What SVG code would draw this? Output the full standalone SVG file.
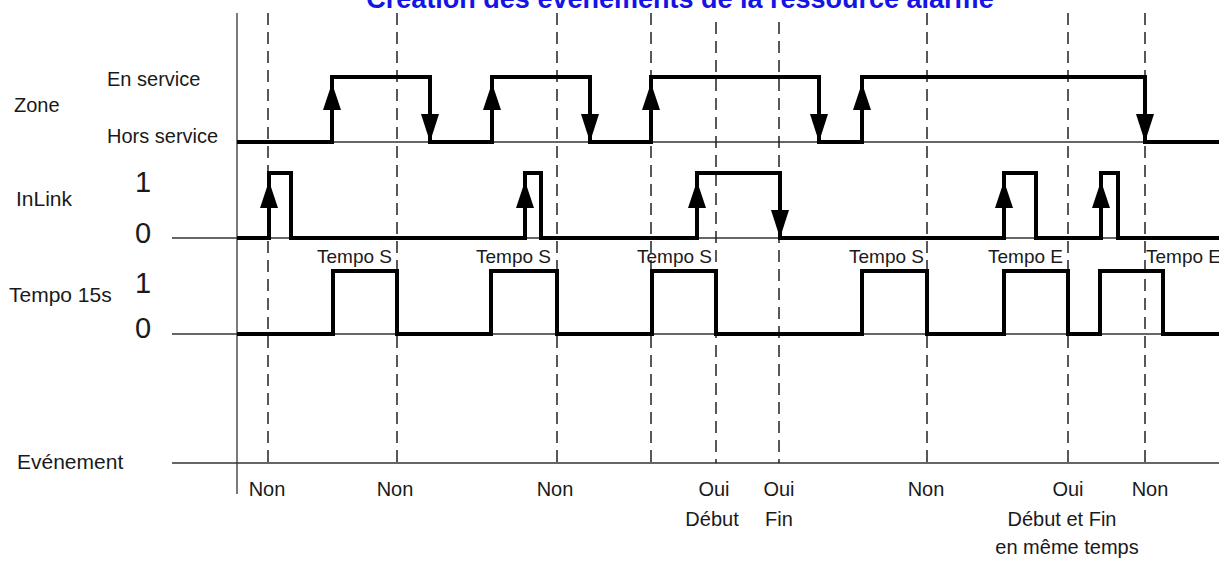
<svg xmlns="http://www.w3.org/2000/svg" xmlns:xlink="http://www.w3.org/1999/xlink" width="1219" height="561" viewBox="0 0 1219 561">
<style>
  .lbl{font-family:"Liberation Sans",Arial,sans-serif;font-size:20px;fill:#1a1a1a}
  .big{font-family:"Liberation Sans",Arial,sans-serif;font-size:29px;fill:#1a1a1a}
  .tmp{font-family:"Liberation Sans",Arial,sans-serif;font-size:19px;fill:#1a1a1a}
  .ev{font-family:"Liberation Sans",Arial,sans-serif;font-size:20px;fill:#1a1a1a;text-anchor:middle}
  .title{font-family:"Liberation Sans",Arial,sans-serif;font-size:27px;font-weight:bold;fill:#1414e6;text-anchor:middle}
  .thin{stroke:#333;stroke-width:1.5;fill:none}
  .dash{stroke:#222;stroke-width:1.5;stroke-dasharray:12 7;fill:none}
  .sig{stroke:#000;stroke-width:4;fill:none;stroke-linejoin:miter}
</style>
<defs>
  <path id="up" d="M0,0 L-9,27 L9,27 Z" fill="#000"/>
  <path id="dn" d="M0,0 L-9,-28 L9,-28 Z" fill="#000"/>
</defs>
<rect width="1219" height="561" fill="#fff"/>
<g id="title"><text class="title" x="680" y="8">Création des événements de la ressource alarme</text></g>
<g id="labels">
  <text class="lbl" x="14" y="112">Zone</text>
  <text class="lbl" x="107" y="86">En service</text>
  <text class="lbl" x="107" y="143">Hors service</text>
  <text class="lbl" x="16" y="206" style="font-size:21px">InLink</text>
  <text class="big" x="135" y="192">1</text>
  <text class="big" x="135" y="243">0</text>
  <text class="lbl" x="9" y="302" style="font-size:21px">Tempo 15s</text>
  <text class="big" x="135" y="293">1</text>
  <text class="big" x="135" y="338">0</text>
  <text class="lbl" x="17" y="469" style="font-size:21px">Evénement</text>
</g>
<g id="axes">
  <line class="thin" x1="237" y1="13" x2="237" y2="494" style="stroke-width:1.3"/>
  <line class="thin" x1="237" y1="142" x2="1219" y2="142"/>
  <line class="thin" x1="172" y1="238" x2="1219" y2="238"/>
  <line class="thin" x1="172" y1="334" x2="1219" y2="334"/>
  <line class="thin" x1="172" y1="463" x2="1219" y2="463"/>
</g>
<g id="connectors">
  <line class="dash" x1="268" y1="13" x2="268" y2="462"/>
  <line class="dash" x1="397" y1="13" x2="397" y2="462"/>
  <line class="dash" x1="557" y1="13" x2="557" y2="462"/>
  <line class="dash" x1="651" y1="13" x2="651" y2="462"/>
  <line class="dash" x1="716" y1="22" x2="716" y2="463"/>
  <line class="dash" x1="779" y1="22" x2="779" y2="463"/>
  <line class="dash" x1="927" y1="13" x2="927" y2="462"/>
  <line class="dash" x1="1068" y1="13" x2="1068" y2="462"/>
  <line class="dash" x1="1145" y1="13" x2="1145" y2="462"/>
</g>
<g id="zone">
  <path class="sig" d="M237,142 H332 V77 H430 V142 H492 V77 H590 V142 H651 V77 H819 V142 H862 V77 H1145 V142 H1219"/>
  <use xlink:href="#up" x="332" y="83"/>
  <use xlink:href="#dn" x="430" y="142"/>
  <use xlink:href="#up" x="492" y="83"/>
  <use xlink:href="#dn" x="590" y="142"/>
  <use xlink:href="#up" x="651" y="83"/>
  <use xlink:href="#dn" x="819" y="142"/>
  <use xlink:href="#up" x="862" y="83"/>
  <use xlink:href="#dn" x="1145" y="142"/>
</g>
<g id="inlink">
  <path class="sig" d="M237,238 H269 V173 H291 V238 H525 V173 H541 V238 H697 V173 H780 V238 H1004 V173 H1036 V238 H1101 V173 H1118 V238 H1219"/>
  <use xlink:href="#up" x="269" y="181"/>
  <use xlink:href="#up" x="525" y="181"/>
  <use xlink:href="#up" x="697" y="181"/>
  <use xlink:href="#dn" x="780" y="238"/>
  <use xlink:href="#up" x="1004" y="181"/>
  <use xlink:href="#up" x="1101" y="181"/>
</g>
<g id="tempo">
  <path class="sig" d="M237,334 H333 V271 H397 V334 H491 V271 H557 V334 H652 V271 H716 V334 H862 V271 H927 V334 H1004 V271 H1068 V334 H1100 V271 H1163 V334 H1219"/>
  <text class="tmp" x="392" y="263" text-anchor="end">Tempo S</text>
  <text class="tmp" x="551" y="263" text-anchor="end">Tempo S</text>
  <text class="tmp" x="712" y="263" text-anchor="end">Tempo S</text>
  <text class="tmp" x="924" y="263" text-anchor="end">Tempo S</text>
  <text class="tmp" x="1063" y="263" text-anchor="end">Tempo E</text>
  <text class="tmp" x="1146" y="263">Tempo E</text>
</g>
<g id="events">
  <text class="ev" x="267" y="496">Non</text>
  <text class="ev" x="395" y="496">Non</text>
  <text class="ev" x="555" y="496">Non</text>
  <text class="ev" x="714" y="496">Oui</text>
  <text class="ev" x="779" y="496">Oui</text>
  <text class="ev" x="926" y="496">Non</text>
  <text class="ev" x="1068" y="496">Oui</text>
  <text class="ev" x="1150" y="496">Non</text>
  <text class="ev" x="712" y="526">Début</text>
  <text class="ev" x="779" y="526">Fin</text>
  <text class="ev" x="1062" y="526">Début et Fin</text>
  <text class="ev" x="1067" y="554">en même temps</text>
</g>
</svg>
